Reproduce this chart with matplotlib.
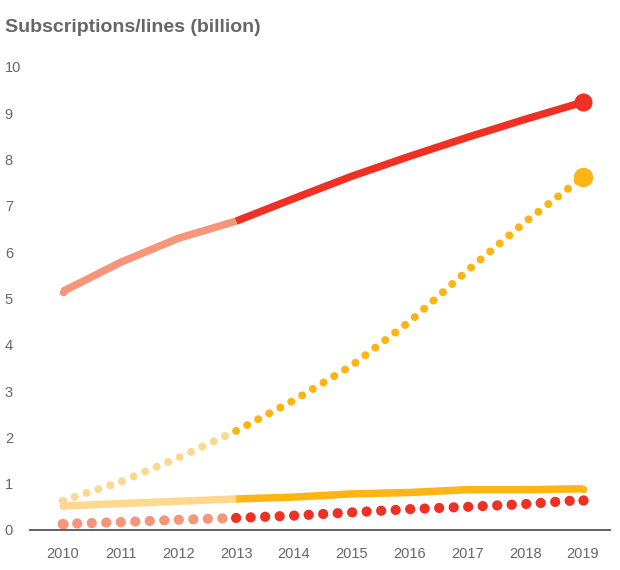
import matplotlib
matplotlib.use('Agg')
import matplotlib.pyplot as plt

plt.rcParams['font.family'] = ['Liberation Sans', 'DejaVu Sans']

# Данные (млрд)
years = [2010, 2011, 2012, 2013, 2014, 2015, 2016, 2017, 2018, 2019]
mobile_subs = [5.15, 5.78, 6.30, 6.67, 7.16, 7.64, 8.07, 8.48, 8.87, 9.24]
mobile_bb = [0.63, 1.04, 1.56, 2.14, 2.80, 3.55, 4.50, 5.60, 6.65, 7.62]
fixed_bb = [0.52, 0.57, 0.62, 0.67, 0.71, 0.78, 0.81, 0.87, 0.87, 0.89]
mobile_pc = [0.13, 0.17, 0.22, 0.26, 0.31, 0.38, 0.45, 0.50, 0.56, 0.65]
split = 3  # индекс 2013: история / прогноз

red = '#EE3124'
red_light = '#F5957A'
yellow = '#FDB515'
yellow_light = '#FED88E'

fig = plt.figure(figsize=(6.2, 5.7), dpi=100)
ax = fig.add_axes([0.048, 0.0702, 0.936, 0.8123])


def two_part(y, c_hist, c_fore, **kw):
    ax.plot(years[:split + 1], y[:split + 1], color=c_hist, **kw)
    ax.plot(years[split:], y[split:], color=c_fore, **kw)


def end_dots(y, c_s, c_e, size, z):
    ax.plot(years[0], y[0], 'o', ms=size, color=c_s, mec='none', zorder=z, clip_on=False)
    ax.plot(years[-1], y[-1], 'o', ms=size, color=c_e, mec='none', zorder=z, clip_on=False)


# сплошные линии
two_part(mobile_subs, red_light, red, lw=5.4, solid_capstyle='butt', zorder=3)
two_part(fixed_bb, yellow_light, yellow, lw=5.4, solid_capstyle='butt', zorder=3)
end_dots(mobile_subs, red_light, red, 5.4, 3)
end_dots(fixed_bb, yellow_light, yellow, 5.4, 3)

# точечные линии
two_part(mobile_bb, yellow_light, yellow, lw=5.8, linestyle=(0, (0.001, 1.55)),
         dash_capstyle='round', zorder=2)
two_part(mobile_pc, red_light, red, lw=7.4, linestyle=(0, (0.001, 1.412)),
         dash_capstyle='round', zorder=2)
end_dots(mobile_bb, yellow_light, yellow, 5.8, 2)
end_dots(mobile_pc, red_light, red, 7.4, 2)

# крупные точки в 2019
ax.plot(years[-1], mobile_subs[-1], 'o', ms=13, color=red, mec='none', zorder=4, clip_on=False)
ax.plot(years[-1], mobile_bb[-1], 'o', ms=14, color=yellow, mec='none', zorder=4, clip_on=False)

ax.set_xlim(2009.43, 2019.47)
ax.set_ylim(0, 10)
ax.set_xticks(years)
ax.set_yticks(range(0, 11))
for s in ['top', 'right', 'left']:
    ax.spines[s].set_visible(False)
ax.spines['bottom'].set_color('#555555')
ax.spines['bottom'].set_linewidth(1.3)
ax.tick_params(axis='both', length=0, labelsize=10.5, labelcolor='#666666')
ax.tick_params(axis='x', pad=12)
ax.tick_params(axis='y', pad=18)
for lbl in ax.get_yticklabels():
    lbl.set_horizontalalignment('left')

fig.text(0.008, 0.952, 'Subscriptions/lines (billion)', fontsize=14, fontweight='bold',
         color='#666666', va='center', ha='left')

fig.savefig('out.png', dpi=100)
